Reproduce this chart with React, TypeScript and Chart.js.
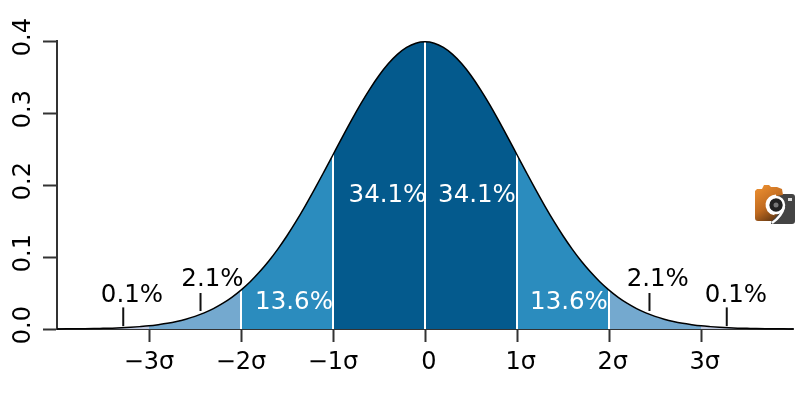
import React, { useEffect, useRef } from "react";
import { Chart, registerables } from "chart.js";

Chart.register(...registerables);

const FONT = "'DejaVu Sans', sans-serif";

// Density curve
const curveX = [
  -4, -3.9, -3.8, -3.7, -3.6, -3.5, -3.4, -3.3, -3.2, -3.1, -3, -2.9, -2.8, -2.7, -2.6, -2.5, -2.4, -2.3, -2.2, -2.1,
  -2, -1.9, -1.8, -1.7, -1.6, -1.5, -1.4, -1.3, -1.2, -1.1, -1, -0.9, -0.8, -0.7, -0.6, -0.5, -0.4, -0.3, -0.2, -0.1,
  0, 0.1, 0.2, 0.3, 0.4, 0.5, 0.6, 0.7, 0.8, 0.9, 1, 1.1, 1.2, 1.3, 1.4, 1.5, 1.6, 1.7, 1.8, 1.9,
  2, 2.1, 2.2, 2.3, 2.4, 2.5, 2.6, 2.7, 2.8, 2.9, 3, 3.1, 3.2, 3.3, 3.4, 3.5, 3.6, 3.7, 3.8, 3.9, 4,
];
const curveY = [
  0.0001, 0.0002, 0.0003, 0.0004, 0.0006, 0.0009, 0.0012, 0.0017, 0.0024, 0.0033, 0.0044, 0.006, 0.0079, 0.0104, 0.0136, 0.0175, 0.0224, 0.0283, 0.0355, 0.044,
  0.054, 0.0656, 0.079, 0.094, 0.1109, 0.1295, 0.1497, 0.1714, 0.1942, 0.2179, 0.242, 0.2661, 0.2897, 0.3123, 0.3332, 0.3521, 0.3683, 0.3814, 0.391, 0.397,
  0.3989, 0.397, 0.391, 0.3814, 0.3683, 0.3521, 0.3332, 0.3123, 0.2897, 0.2661, 0.242, 0.2179, 0.1942, 0.1714, 0.1497, 0.1295, 0.1109, 0.094, 0.079, 0.0656,
  0.054, 0.044, 0.0355, 0.0283, 0.0224, 0.0175, 0.0136, 0.0104, 0.0079, 0.006, 0.0044, 0.0033, 0.0024, 0.0017, 0.0012, 0.0009, 0.0006, 0.0004, 0.0003, 0.0002, 0.0001,
];

const bandEdges = [-4, -3, -2, -1, 0, 1, 2, 3, 4];
const bandColors = ["#bdc9e1", "#74a9cf", "#2b8cbe", "#045a8d", "#045a8d", "#2b8cbe", "#74a9cf", "#bdc9e1"];
const dividers = [-2, -1, 0, 1, 2];

const xTickValues = [-3, -2, -1, 0, 1, 2, 3];
const xTickLabels = ["−3σ", "−2σ", "−1σ", " 0", " 1σ", " 2σ", " 3σ"];
const yTickValues = [0, 0.1, 0.2, 0.3, 0.4];

// Short leader marks
const leaderX = [-3.28, -2.44, 2.44, 3.28];
const leaderLow = [0.004, 0.025, 0.025, 0.004];
const leaderHigh = [0.03, 0.05, 0.05, 0.03];

// Percent labels
const pctText = ["0.1%", "2.1%", "13.6%", "34.1%", "34.1%", "13.6%", "2.1%", "0.1%"];
const pctX = [-3.185, -2.31, -1.424, -0.408, 0.565, 1.565, 2.53, 3.38];
const pctY = [0.0375, 0.06, 0.028, 0.176, 0.176, 0.028, 0.06, 0.0375];
const pctColor = ["#000", "#000", "#fff", "#fff", "#fff", "#fff", "#000", "#000"];

const curvePoints = curveX.map((x, i) => ({ x, y: curveY[i] }));
const yAt = (x: number) => curveY[curveX.findIndex((v) => Math.abs(v - x) < 1e-6)];

function drawBadge(ctx: CanvasRenderingContext2D) {
  ctx.save();
  // grey body
  ctx.fillStyle = "#444444";
  ctx.beginPath();
  ctx.moveTo(776, 194);
  ctx.lineTo(792, 194);
  ctx.quadraticCurveTo(795, 194, 795, 197);
  ctx.lineTo(795, 221);
  ctx.quadraticCurveTo(795, 224, 792, 224);
  ctx.lineTo(771, 224);
  ctx.closePath();
  ctx.fill();
  // orange body
  const g = ctx.createLinearGradient(757, 190, 778, 222);
  g.addColorStop(0, "#e68a2e");
  g.addColorStop(0.5, "#bf6a20");
  g.addColorStop(1, "#4f2d10");
  ctx.fillStyle = g;
  ctx.beginPath();
  ctx.moveTo(757, 189);
  ctx.lineTo(762, 189);
  ctx.lineTo(764, 185);
  ctx.lineTo(769, 185);
  ctx.lineTo(771, 187);
  ctx.lineTo(777, 187);
  ctx.lineTo(782, 189);
  ctx.lineTo(783, 195);
  ctx.lineTo(776, 196);
  ctx.lineTo(767, 205);
  ctx.lineTo(771, 213);
  ctx.lineTo(778, 214);
  ctx.lineTo(772, 221);
  ctx.lineTo(758, 221);
  ctx.quadraticCurveTo(755, 221, 755, 218);
  ctx.lineTo(755, 191);
  ctx.closePath();
  ctx.fill();
  // lens
  ctx.fillStyle = "#222222";
  ctx.beginPath();
  ctx.arc(776, 205, 7, 0, Math.PI * 2);
  ctx.fill();
  ctx.fillStyle = "#777777";
  ctx.beginPath();
  ctx.arc(776, 205, 2.5, 0, Math.PI * 2);
  ctx.fill();
  // white ring and tail
  ctx.strokeStyle = "#ffffff";
  ctx.lineWidth = 2.5;
  ctx.beginPath();
  ctx.arc(776, 205, 8, 0, Math.PI * 2);
  ctx.stroke();
  ctx.lineWidth = 3;
  ctx.beginPath();
  ctx.arc(776, 205, 9, Math.PI * 0.55, Math.PI * 1.5);
  ctx.stroke();
  ctx.lineWidth = 2.5;
  ctx.beginPath();
  ctx.moveTo(784, 207);
  ctx.quadraticCurveTo(782, 216, 772, 223);
  ctx.stroke();
  // viewfinder
  ctx.fillStyle = "#dddddd";
  ctx.fillRect(788, 198, 4, 3);
  ctx.restore();
}

const overlay = {
  id: "overlay",
  afterDraw(chart: any) {
    const { ctx, scales } = chart;
    ctx.save();
    ctx.font = `24.5px ${FONT}`;
    ctx.textAlign = "center";
    ctx.textBaseline = "alphabetic";
    pctText.forEach((t, i) => {
      ctx.fillStyle = pctColor[i];
      ctx.fillText(t, scales.x.getPixelForValue(pctX[i]), scales.y.getPixelForValue(pctY[i]));
    });
    ctx.restore();
    drawBadge(ctx);
  },
};

export default function App() {
  const ref = useRef<HTMLCanvasElement>(null);

  useEffect(() => {
    if (!ref.current) return;
    const line = (data: any[], color: string, width: number) => ({
      data,
      borderColor: color,
      borderWidth: width,
      pointRadius: 0,
      fill: false,
      clip: false as any,
    });
    const bands = bandColors.map((c, i) => ({
      data: curvePoints.filter((p) => p.x >= bandEdges[i] - 1e-6 && p.x <= bandEdges[i + 1] + 1e-6),
      borderWidth: 0,
      borderColor: "transparent",
      backgroundColor: c,
      pointRadius: 0,
      fill: "origin",
      cubicInterpolationMode: "monotone",
    }));
    const rules = dividers.map((x) => line([{ x, y: 0 }, { x, y: yAt(x) }], "#ffffff", 2));
    const leaders = leaderX.map((x, i) => line([{ x, y: leaderLow[i] }, { x, y: leaderHigh[i] }], "#111111", 2));
    const curve = { ...line(curvePoints, "#000000", 1.5), cubicInterpolationMode: "monotone" };

    const chart = new Chart(ref.current, {
      type: "line",
      data: { datasets: [curve, ...leaders, ...rules, ...bands] as any },
      plugins: [overlay],
      options: {
        responsive: false,
        animation: false,
        layout: { padding: { top: 41, right: 7, left: 0, bottom: 0 } },
        plugins: { legend: { display: false }, tooltip: { enabled: false } },
        scales: {
          x: {
            type: "linear",
            min: -4,
            max: 4,
            afterBuildTicks: (s: any) => {
              s.ticks = xTickValues.map((value) => ({ value }));
            },
            afterFit: (s: any) => {
              s.height = 71;
            },
            border: { color: "#333333", width: 2 },
            grid: { drawOnChartArea: false, tickLength: 13, tickColor: "#333333", tickWidth: 2 },
            ticks: {
              color: "#000",
              font: { family: FONT, size: 24 },
              padding: 6,
              maxRotation: 0,
              autoSkip: false,
              callback: (v: any) => xTickLabels[xTickValues.indexOf(Number(v))],
            },
          },
          y: {
            type: "linear",
            min: 0,
            max: 0.4,
            afterBuildTicks: (s: any) => {
              s.ticks = yTickValues.map((value) => ({ value }));
            },
            afterFit: (s: any) => {
              s.width = 57;
            },
            border: { color: "#333333", width: 2 },
            grid: { drawOnChartArea: false, tickLength: 14, tickColor: "#333333", tickWidth: 2 },
            ticks: {
              color: "#000",
              font: { family: FONT, size: 24 },
              minRotation: 90,
              maxRotation: 90,
              crossAlign: "center",
              padding: -4,
              autoSkip: false,
              callback: (v: any) => " " + Number(v).toFixed(1),
            },
          },
        },
      } as any,
    });
    return () => chart.destroy();
  }, []);

  return (
    <div style={{ position: "absolute", left: 0, top: 0, width: 800, height: 400 }}>
      <canvas ref={ref} width={800} height={400} style={{ display: "block" }} />
    </div>
  );
}
